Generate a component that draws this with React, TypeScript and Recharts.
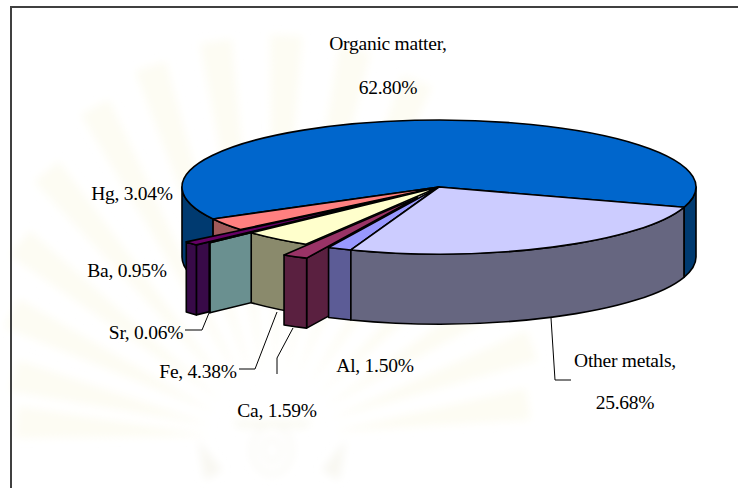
import { Pie, PieChart } from "recharts"

const WIDTH = 738
const HEIGHT = 488

// the table runs counter-clockwise from the Organic matter edge, so the front slices paint last
const sliceNames = ["Organic matter", "Hg", "Ba", "Sr", "Fe", "Ca", "Al", "Other metals"]
const sliceValues = [62.8, 3.04, 0.95, 0.06, 4.38, 1.59, 1.5, 25.68]
const data = sliceNames.map((name, i) => ({ name, value: sliceValues[i] }))

const topFill: Record<string, string> = {
  "Organic matter": "#0066cc",
  Hg: "#ff8080",
  Ba: "#660066",
  Sr: "#ccffff",
  Fe: "#ffffcc",
  Ca: "#993366",
  Al: "#9999ff",
  "Other metals": "#ccccff",
}
const wallFill: Record<string, string> = {
  "Organic matter": "#003a70",
  Hg: "#a05a5a",
  Ba: "#380a48",
  Sr: "#6a9090",
  Fe: "#8a8a6c",
  Ca: "#5a2040",
  Al: "#5c5c96",
  "Other metals": "#666680",
}

// how far a slice is pulled out of the pie, as a share of the radius
const pullOut: Record<string, number> = { Ca: 0.18, Sr: 0.22, Ba: 0.28 }

const SQUASH = 67 / 257
const DEPTH = 70

function SliceShape(props: any) {
  const { cx, cy, outerRadius: r, startAngle, endAngle, name } = props
  const rx = r
  const ry = r * SQUASH
  const mid = ((startAngle + endAngle) / 2) * (Math.PI / 180)
  const pull = pullOut[name] ?? 0
  const ox = cx + Math.cos(mid) * rx * pull
  const oy = cy - Math.sin(mid) * ry * pull

  const at = (deg: number) => {
    const a = (deg * Math.PI) / 180
    return [ox + Math.cos(a) * rx, oy - Math.sin(a) * ry]
  }
  const arc = (from: number, to: number, dy = 0) => {
    const [x, y] = at(to)
    const large = Math.abs(to - from) > 180 ? 1 : 0
    return `A ${rx} ${ry} 0 ${large} ${to > from ? 0 : 1} ${x} ${y + dy}`
  }

  // rim walls only show on the front half of the ellipse
  const walls: string[] = []
  for (const [lo, hi] of [
    [-180, 0],
    [180, 360],
  ]) {
    const a = Math.max(startAngle, lo)
    const b = Math.min(endAngle, hi)
    if (b <= a) continue
    const [ax, ay] = at(a)
    const [bx, by] = at(b)
    walls.push(`M ${ax} ${ay} ${arc(a, b)} L ${bx} ${by + DEPTH} ${arc(b, a, DEPTH)} Z`)
  }

  const [sx, sy] = at(startAngle)
  const [ex, ey] = at(endAngle)
  const stroke = { stroke: "#000", strokeWidth: 1.6, strokeLinejoin: "round" as const }

  return (
    <g>
      {pull > 0 && (
        <path
          d={`M ${ox} ${oy} L ${ex} ${ey} L ${ex} ${ey + DEPTH} L ${ox} ${oy + DEPTH} Z`}
          fill={wallFill[name]}
          {...stroke}
        />
      )}
      {walls.map((d) => (
        <path key={d} d={d} fill={wallFill[name]} {...stroke} />
      ))}
      <path d={`M ${ox} ${oy} L ${sx} ${sy} ${arc(startAngle, endAngle)} Z`} fill={topFill[name]} {...stroke} />
    </g>
  )
}

// where each caption sits; two-line captions keep the value on its own row
const captionSpots: Record<string, { x: number; y: number; y2?: number }> = {
  "Organic matter": { x: 388, y: 50, y2: 94 },
  Hg: { x: 132, y: 200 },
  Ba: { x: 127, y: 277 },
  Sr: { x: 146, y: 339 },
  Fe: { x: 198, y: 378 },
  Ca: { x: 277, y: 417 },
  Al: { x: 375, y: 372 },
  "Other metals": { x: 625, y: 367, y2: 409 },
}

const leaders: Record<string, string> = {
  Sr: "185,330 202,330 209,313",
  Fe: "239,369 255,369 277,312",
  Ca: "277,374 277,358 293,328",
  "Other metals": "551,318 555,380 571,380",
}

function Caption(props: any) {
  const { name, value } = props
  const spot = captionSpots[name]
  const pct = `${value.toFixed(2)}%`
  const common = {
    textAnchor: "middle" as const,
    fontFamily: "Liberation Serif",
    fontSize: 19.5,
    letterSpacing: -0.25,
    fill: "#000",
  }
  return (
    <g>
      {leaders[name] && <polyline points={leaders[name]} fill="none" stroke="#000" strokeWidth={1} />}
      {spot.y2 ? (
        <>
          <text x={spot.x} y={spot.y} {...common}>{`${name},`}</text>
          <text x={spot.x} y={spot.y2} {...common}>{pct}</text>
        </>
      ) : (
        <text x={spot.x} y={spot.y} {...common}>{`${name}, ${pct}`}</text>
      )}
    </g>
  )
}

// faint page emblem: a fan of soft rays above a small crest
const rayAngles = [8, 20, 32, 44, 56, 68, 78, 88, 98, 108, 118, 130, 142, 154, 166, 176]

function PageEmblem() {
  const ox = 272
  const oy = 440
  return (
    <svg width={WIDTH} height={HEIGHT} style={{ position: "absolute", left: 0, top: 0 }}>
      <defs>
        <filter id="soft" x="-10%" y="-10%" width="120%" height="120%">
          <feGaussianBlur stdDeviation="4" />
        </filter>
      </defs>
      <g filter="url(#soft)">
        {rayAngles.map((deg) => {
          const a = (deg * Math.PI) / 180
          const len = Math.hypot(255 * Math.cos(a), 405 * Math.sin(a))
          const tipX = ox + Math.cos(a) * len
          const tipY = oy - Math.sin(a) * len
          const nx = -Math.sin(a) * 16
          const ny = -Math.cos(a) * 16
          return (
            <path
              key={deg}
              d={`M ${ox + Math.cos(a) * 60} ${oy - Math.sin(a) * 60} L ${tipX + nx} ${tipY + ny} L ${tipX - nx} ${tipY - ny} Z`}
              fill="#fdfcf3"
            />
          )
        })}
        <ellipse cx={272} cy={450} rx={20} ry={24} fill="none" stroke="#f8f7f1" strokeWidth={3} />
        <ellipse cx={272} cy={450} rx={9} ry={11} fill="none" stroke="#f8f7f1" strokeWidth={3} />
        <path d="M 198 440 L 222 470 L 205 480 Z M 346 440 L 322 470 L 339 480 Z" fill="#f8f7f1" />
        <path d="M 232 420 L 312 420 L 306 428 L 238 428 Z" fill="#fafaf2" />
      </g>
    </svg>
  )
}

export default function App() {
  return (
    <div style={{ position: "absolute", left: 0, top: 0, width: WIDTH, height: HEIGHT, background: "#fff" }}>
      <PageEmblem />
      <div style={{ position: "absolute", left: 0, top: 0 }}>
        <PieChart width={WIDTH} height={HEIGHT} margin={{ top: 0, right: 0, bottom: 0, left: 0 }}>
          <Pie
            data={data}
            dataKey="value"
            nameKey="name"
            cx={439}
            cy={187}
            outerRadius={257}
            startAngle={-17.6}
            endAngle={342.4}
            stroke="none"
            shape={SliceShape}
            label={Caption}
            labelLine={false}
            isAnimationActive={false}
          />
        </PieChart>
      </div>
      {/* frame: top and left rules only */}
      <div style={{ position: "absolute", left: 10, top: 6, right: 0, height: 2, background: "#404040" }} />
      <div style={{ position: "absolute", left: 10, top: 6, bottom: 0, width: 2, background: "#404040" }} />
    </div>
  )
}
